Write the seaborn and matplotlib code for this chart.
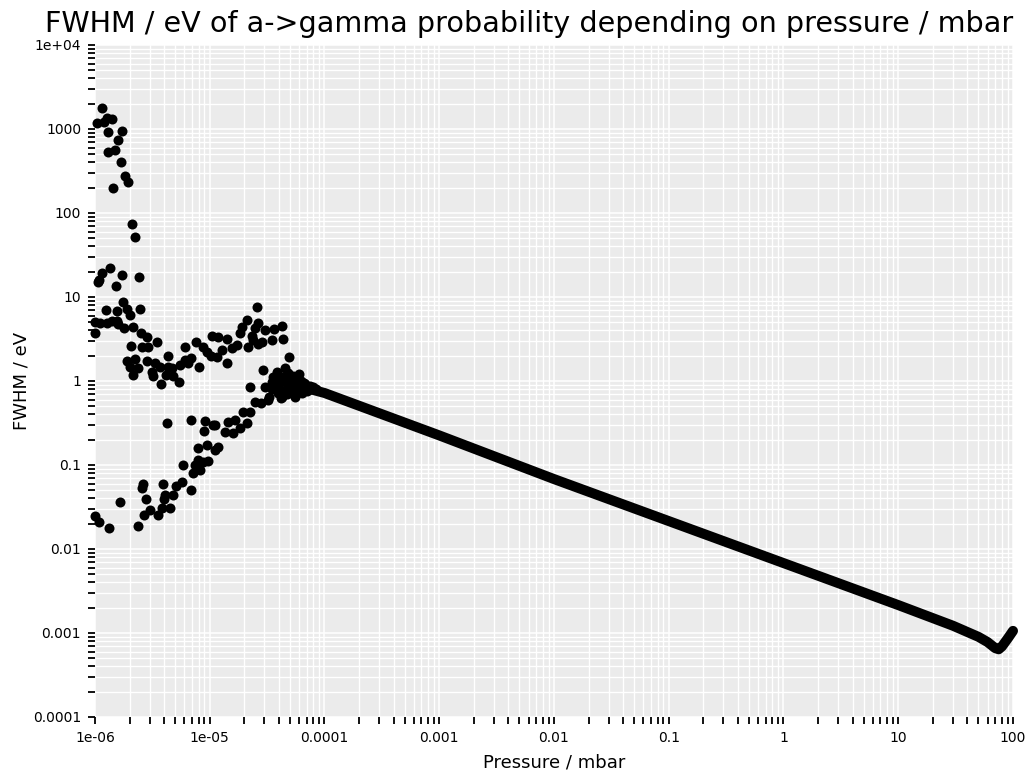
import matplotlib
matplotlib.use("Agg")
import matplotlib.pyplot as plt
import matplotlib.ticker as mticker
import seaborn as sns
import pandas as pd

# ---- data ----
scatter_pressure = [
    1.04e-6, 1.15e-6, 1.27e-6, 1.41e-6, 1.20e-6, 1.72e-6, 1.30e-6, 1.59e-6, 1.49e-6, 1.30e-6,
    1.69e-6, 1.83e-6, 1.94e-6, 1.44e-6, 2.10e-6, 2.23e-6, 1.35e-6, 1.15e-6, 1.06e-6, 1.08e-6,
    1.72e-6, 1.52e-6, 2.42e-6, 1.75e-6, 1.25e-6, 1.56e-6, 1.90e-6, 2.02e-6, 2.47e-6, 1.00e-6,
    1.11e-6, 1.27e-6, 1.41e-6, 1.56e-6, 1.59e-6, 1.79e-6, 2.14e-6, 1.00e-6, 2.52e-6, 2.84e-6,
    3.47e-6, 2.90e-6, 2.57e-6, 2.06e-6, 4.33e-6, 6.09e-6, 7.59e-6, 8.74e-6, 10.5e-6, 10.3e-6,
    1.90e-6, 2.23e-6, 2.02e-6, 2.37e-6, 2.14e-6, 2.84e-6, 3.33e-6, 3.69e-6, 3.14e-6, 3.20e-6,
    3.76e-6, 4.16e-6, 4.69e-6, 4.33e-6, 5.51e-6, 6.09e-6, 6.87e-6, 8.06e-6, 5.40e-6, 4.78e-6,
    6.46e-6, 25.8e-6, 21.1e-6, 19.1e-6, 18.4e-6, 26.3e-6, 24.8e-6, 30.3e-6, 36.3e-6, 42.6e-6,
    11.8e-6, 14.1e-6, 15.6e-6, 12.8e-6, 11.6e-6, 14.1e-6, 23.3e-6, 23.8e-6, 28.5e-6, 34.9e-6,
    43.5e-6, 21.6e-6, 26.3e-6, 49.1e-6, 17.3e-6, 9.46e-6, 29.1e-6, 45.3e-6, 38.6e-6, 22.4e-6,
    30.3e-6, 34.9e-6, 39.3e-6, 52.1e-6, 58.8e-6, 24.8e-6, 32.2e-6, 42.6e-6, 52.1e-6, 63.7e-6,
    19.5e-6, 22.4e-6, 14.4e-6, 16.6e-6, 21.1e-6, 13.6e-6, 15.95e-6, 18.4e-6, 11.1e-6, 11.8e-6,
    11.1e-6, 35.6e-6, 42.6e-6, 55.3e-6, 45.3e-6, 39.3e-6, 4.24e-6, 6.87e-6, 9.09e-6, 10.7e-6,
    8.91e-6, 7.90e-6, 9.46e-6, 7.90e-6, 7.44e-6, 8.74e-6, 9.66e-6, 5.85e-6, 7.15e-6, 8.22e-6,
    2.62e-6, 2.57e-6, 3.91e-6, 5.08e-6, 5.73e-6, 6.87e-6, 4.78e-6, 4.07e-6, 3.99e-6, 2.78e-6,
    1.65e-6, 3.02e-6, 3.84e-6, 4.50e-6, 2.67e-6, 3.54e-6, 1.00e-6, 1.08e-6, 1.32e-6, 2.37e-6,
    66e-6, 75e-6, 85e-6, 60e-6, 70e-6, 50e-6, 55e-6, 62e-6,
    45e-6, 50e-6, 55e-6, 58e-6, 65e-6, 72e-6, 80e-6, 48e-6, 40e-6, 35e-6,
    33e-6, 28e-6, 60e-6, 42e-6, 53e-6, 68e-6, 38e-6, 47e-6,
]
scatter_fwhm = [
    1180, 1780, 1350, 1315, 1210, 947, 921, 740, 562, 532,
    405, 276, 234, 199, 74, 52, 22.1, 19.3, 15.1, 15.9,
    18.3, 13.5, 17.3, 8.7, 7.0, 6.8, 7.2, 6.1, 7.2, 5.04,
    4.9, 4.9, 5.18, 5.18, 4.77, 4.27, 4.40, 3.73, 3.73, 3.34,
    2.91, 2.54, 2.54, 2.61, 1.99, 2.54, 2.91, 2.54, 3.43, 1.99,
    1.73, 1.83, 1.47, 1.43, 1.18, 1.73, 1.64, 1.47, 1.28, 1.15,
    0.92, 1.18, 1.43, 1.47, 1.55, 1.78, 1.88, 1.47, 0.97, 1.15,
    1.64, 7.6, 5.3, 4.4, 3.73, 4.9, 4.27, 4.05, 4.16, 4.52,
    3.34, 3.16, 2.47, 2.34, 1.93, 1.64, 3.43, 3.07, 2.91, 3.07,
    3.16, 2.54, 2.75, 1.93, 2.68, 2.21, 1.35, 1.43, 1.28, 0.85,
    0.85, 0.97, 0.85, 1.03, 0.90, 0.56, 0.59, 0.645, 0.72, 0.72,
    0.43, 0.43, 0.325, 0.343, 0.316, 0.247, 0.24, 0.275, 0.30, 0.164,
    0.151, 1.12, 1.12, 0.85, 0.78, 0.72, 0.316, 0.343, 0.334, 0.30,
    0.254, 0.159, 0.173, 0.115, 0.100, 0.109, 0.111, 0.100, 0.080, 0.087,
    0.059, 0.053, 0.059, 0.056, 0.0628, 0.050, 0.044, 0.044, 0.039, 0.039,
    0.036, 0.029, 0.031, 0.031, 0.0254, 0.0254, 0.0247, 0.021, 0.0178, 0.0188,
    0.95, 0.88, 0.80, 0.80, 0.75, 0.85, 1.1, 1.0,
    1.0, 0.75, 0.65, 0.95, 0.85, 0.78, 0.85, 1.25, 0.95, 0.80,
    0.65, 0.55, 1.2, 0.62, 1.15, 0.92, 1.05, 0.70,
]

# dense high-pressure branch (appears as a thick continuous band)
line_pressure = [7e-5, 1e-4, 1e-3, 1e-2, 1e-1, 1, 10, 30, 50, 60, 70, 75, 80, 90, 100]
line_fwhm = [0.82, 0.72, 0.225, 0.068, 0.0215, 0.0068, 0.00215, 0.00122, 0.00090,
             0.00078, 0.00066, 0.00064, 0.00069, 0.00086, 0.00106]

x_ticks = [1e-6, 1e-5, 1e-4, 1e-3, 1e-2, 1e-1, 1, 10, 100]
x_ticklabels = ["1e-06", "1e-05", "0.0001", "0.001", "0.01", "0.1", "1", "10", "100"]
y_ticks = [1e-4, 1e-3, 1e-2, 1e-1, 1, 10, 100, 1000, 1e4]
y_ticklabels = ["0.0001", "0.001", "0.01", "0.1", "1", "10", "100", "1000", "1e+04"]

title = "FWHM / eV of a->gamma probability depending on pressure / mbar"
x_label = "Pressure / mbar"
y_label = "FWHM / eV"

# ---- styling ----
sns.set_theme(style="darkgrid", rc={
    "axes.facecolor": "#EBEBEB",
    "grid.color": "white",
    "axes.edgecolor": "none",
    "text.color": "black",
    "axes.labelcolor": "black",
    "xtick.color": "black",
    "ytick.color": "black",
})
plt.rcParams["font.family"] = ["DejaVu Sans"]

fig = plt.figure(figsize=(10.30, 7.78), dpi=100)
fig.patch.set_facecolor("white")
ax = fig.add_axes([95 / 1030, 1 - 717 / 778, 918 / 1030, 672 / 778])

sc_df = pd.DataFrame({"p": scatter_pressure, "f": scatter_fwhm})
ln_df = pd.DataFrame({"p": line_pressure, "f": line_fwhm})

ax.set_xscale("log")
ax.set_yscale("log")

sns.lineplot(data=ln_df, x="p", y="f", ax=ax, color="black", linewidth=7.2,
             estimator=None, sort=True, zorder=3)
for ln in ax.get_lines():
    ln.set_solid_capstyle("round")
    ln.set_solid_joinstyle("round")
    ln.set_clip_on(False)

sns.scatterplot(data=sc_df, x="p", y="f", ax=ax, color="black", s=52,
                linewidth=0, zorder=4, clip_on=False)

ax.set_xlim(1e-6, 100)
ax.set_ylim(1e-4, 1e4)

ax.xaxis.set_major_locator(mticker.FixedLocator(x_ticks))
ax.xaxis.set_major_formatter(mticker.FixedFormatter(x_ticklabels))
ax.yaxis.set_major_locator(mticker.FixedLocator(y_ticks))
ax.yaxis.set_major_formatter(mticker.FixedFormatter(y_ticklabels))
ax.xaxis.set_minor_locator(mticker.LogLocator(base=10, subs=range(2, 10), numticks=50))
ax.yaxis.set_minor_locator(mticker.LogLocator(base=10, subs=range(2, 10), numticks=50))
ax.xaxis.set_minor_formatter(mticker.NullFormatter())
ax.yaxis.set_minor_formatter(mticker.NullFormatter())

ax.grid(True, which="major", color="white", linewidth=1.1)
ax.grid(True, which="minor", color="white", linewidth=1.0)
ax.set_axisbelow(True)

ax.tick_params(which="both", direction="out", length=5, width=1.3, color="black",
               bottom=True, left=True, top=False, right=False)
ax.tick_params(which="major", labelsize=10, labelcolor="black", pad=5)

for s in ax.spines.values():
    s.set_visible(False)

ax.set_xlabel(x_label, fontsize=13, labelpad=6, color="black")
ax.set_ylabel(y_label, fontsize=13, labelpad=2, color="black")
ax.set_title(title, fontsize=20.6, loc="right", pad=9, color="black")

fig.savefig("out.png", dpi=100)
